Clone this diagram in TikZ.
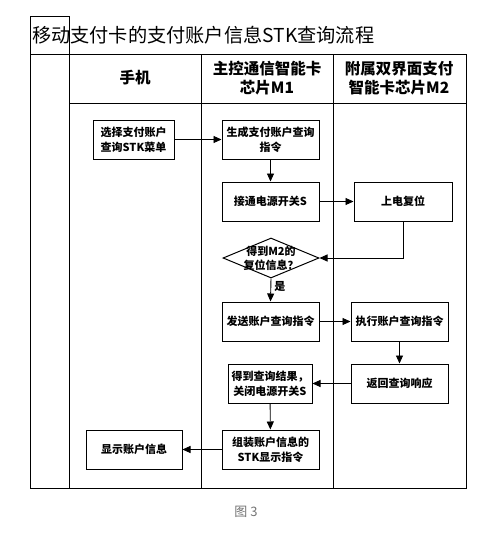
\documentclass[tikz,border=0pt]{standalone}
\usepackage{fontspec}
\setmainfont{Noto Sans CJK SC}
\usetikzlibrary{shapes, arrows.meta, positioning, calc}

\tikzset{
  lane/.style={line width=1pt},
  headtext/.style={font=\bfseries\fontsize{15.5}{18.5}\selectfont, align=center},
  procbox/.style={draw, line width=1pt, minimum width=97pt, minimum height=39pt,
    inner sep=2pt, align=center, font=\bfseries\fontsize{11}{15}\selectfont},
  decbox/.style={draw, diamond, line width=1pt, inner sep=0pt, minimum width=96pt, minimum height=40pt},
  flow/.style={line width=0.9pt, -{Triangle[length=8pt, width=7pt]}}
}

\begin{document}
\begin{tikzpicture}[x=1pt, y={(0pt,-1pt)}]
  \useasboundingbox (0,0) rectangle (500,539);

  % title and swimlanes
  \draw[lane] (30,16) rectangle (69,54);
  \node[anchor=west, inner sep=1pt, font=\fontsize{19.2}{21}\selectfont] (title) at (31,35) {移动支付卡的支付账户信息STK查询流程};
  \draw[lane] (30,54) rectangle (466,488);
  \draw[lane] (69,54) -- (69,488);
  \draw[lane] (201,54) -- (201,488);
  \draw[lane] (333,54) -- (333,488);
  \draw[lane] (69,103) -- (466,103);

  \node[headtext] (phone) at (135,78) {手机};
  \node[headtext] (chipa) at (267,78) {主控通信智能卡\\芯片M1};
  \node[headtext] (chipb) at (399,78) {附属双界面支付\\智能卡芯片M2};

  % flow
  \node[procbox, minimum width=81pt] (sel) at (133.5,139.5) {选择支付账户\\查询STK菜单};
  \node[procbox] (gen) at (270.5,139.5) {生成支付账户查询\\指令};
  \node[procbox] (pwr) at (270.5,201.5) {接通电源开关S};
  \node[procbox, minimum width=98pt] (rst) at (403,201.5) {上电复位};
  \node[decbox] (dec) at (271,258) {};
  \node[align=center, inner sep=0pt, font=\bfseries\fontsize{11}{14}\selectfont] (dectext) at (dec.center) {得到M2的\\复位信息？};
  \node[procbox] (send) at (270.5,321.5) {发送账户查询指令};
  \node[procbox] (exec) at (399.5,321.5) {执行账户查询指令};
  \node[procbox] (ret) at (399.5,383.5) {返回查询响应};
  \node[procbox, minimum width=84pt] (got) at (270,383.5) {得到查询结果，\\关闭电源开关S};
  \node[procbox] (asm) at (270.5,449.5) {组装账户信息的\\STK显示指令};
  \node[procbox, minimum width=96pt] (show) at (134,449.5) {显示账户信息};

  \draw[flow] (sel) -- (gen);
  \draw[flow] (gen) -- (pwr);
  \draw[flow] (pwr) -- (rst);
  \draw[flow] (rst.south) |- (dec.east);
  \draw[flow] (dec.south) -- node[right, pos=0.35, inner sep=3pt, font=\bfseries\fontsize{11}{12}\selectfont] (yes) {是} (send.north);
  \draw[flow] (send) -- (exec);
  \draw[flow] (exec) -- (ret);
  \draw[flow] (ret) -- (got);
  \draw[flow] (got) -- (asm);
  \draw[flow] (asm) -- (show);

  \node[text=black!55, font=\fontsize{13}{15}\selectfont] (fig) at (246,512) {图 3};
\end{tikzpicture}
\end{document}
